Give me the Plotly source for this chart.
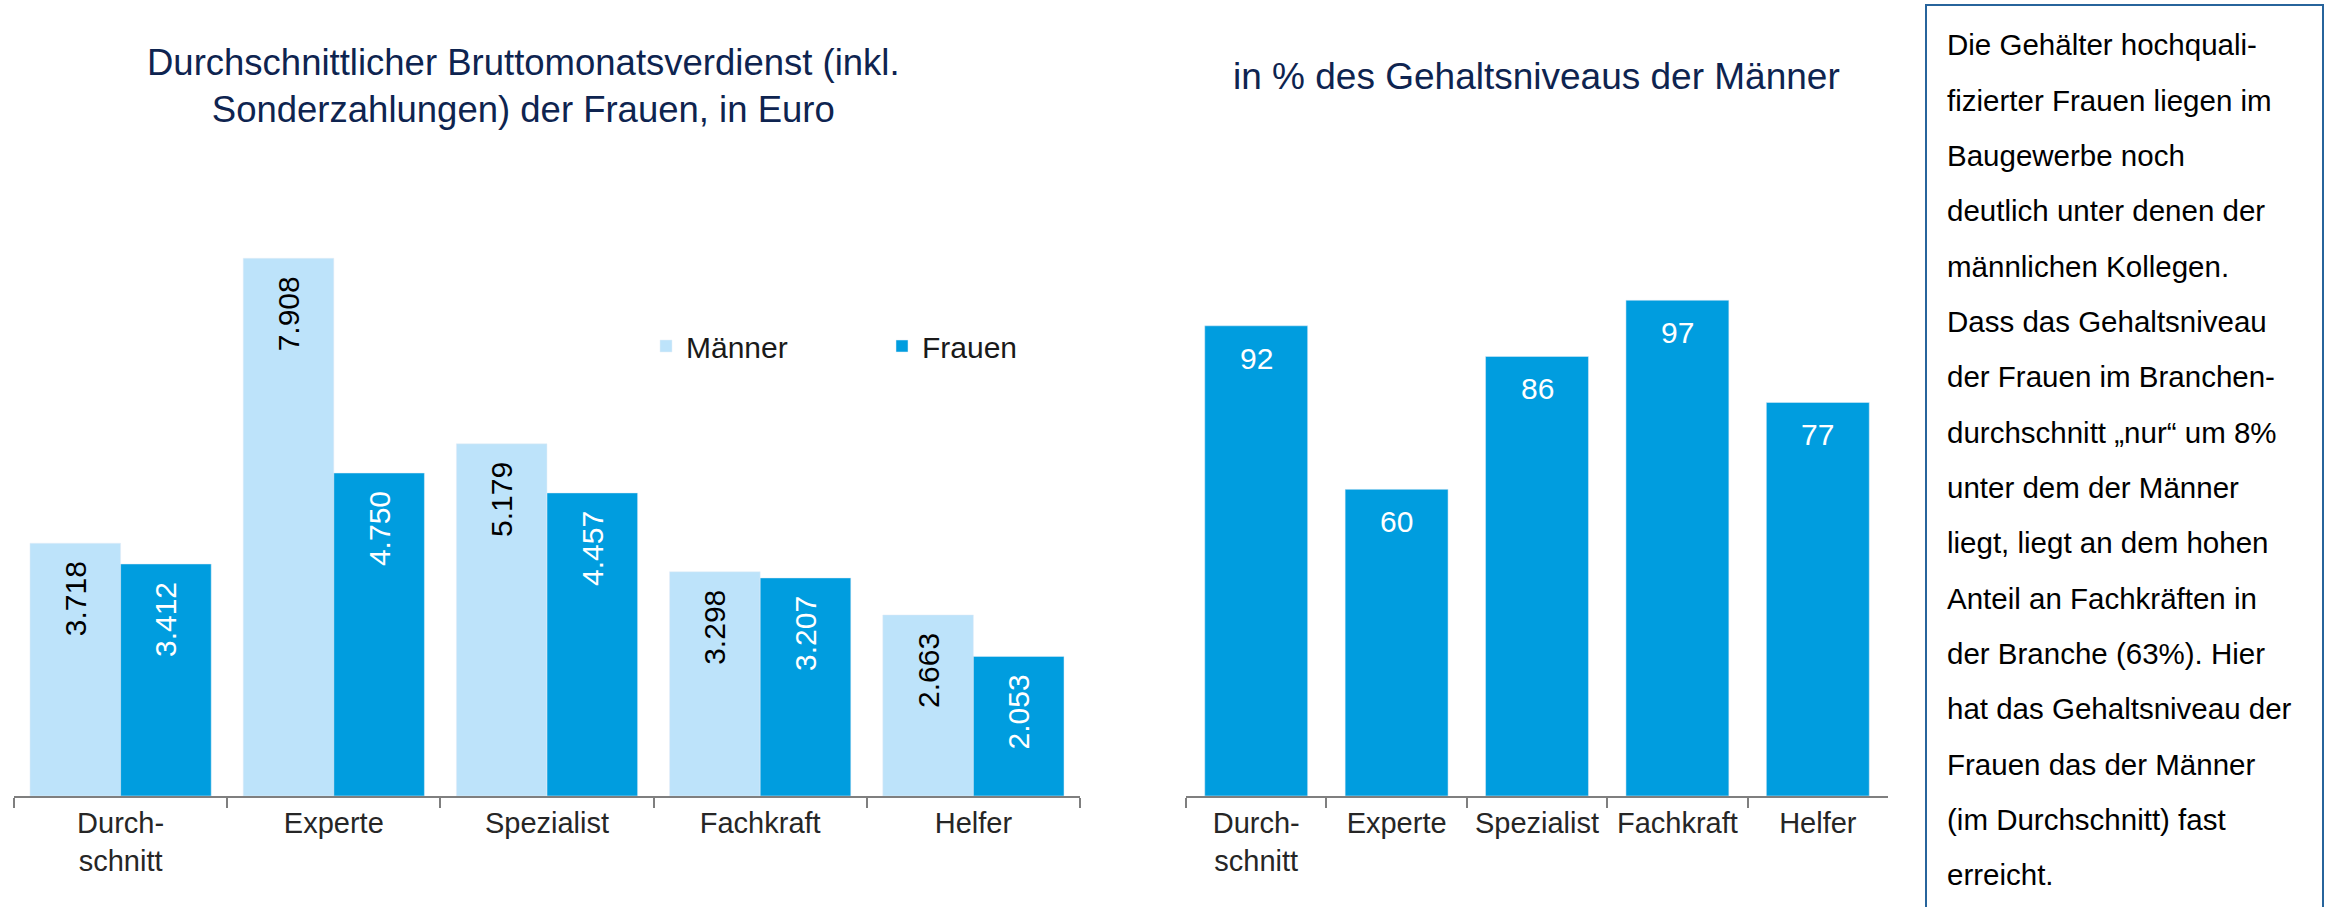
import plotly.graph_objects as go

W, H = 2331, 907

categories = ["Durch-<br>schnitt", "Experte", "Spezialist", "Fachkraft", "Helfer"]
maenner = [3718, 7908, 5179, 3298, 2663]
frauen = [3412, 4750, 4457, 3207, 2053]
prozent = [92, 60, 86, 97, 77]

title_left = "Durchschnittlicher Bruttomonatsverdienst (inkl.<br>Sonderzahlungen) der Frauen, in Euro"
title_right = "in % des Gehaltsniveaus der Männer"
box_lines = [
    "Die Gehälter hochquali-",
    "fizierter Frauen liegen im",
    "Baugewerbe noch",
    "deutlich unter denen der",
    "männlichen Kollegen.",
    "Dass das Gehaltsniveau",
    "der Frauen im Branchen-",
    "durchschnitt „nur“ um 8%",
    "unter dem der Männer",
    "liegt, liegt an dem hohen",
    "Anteil an Fachkräften in",
    "der Branche (63%). Hier",
    "hat das Gehaltsniveau der",
    "Frauen das der Männer",
    "(im Durchschnitt) fast",
    "erreicht.",
]

FONT = "Liberation Sans, Arial, sans-serif"
C_M = "#bde3fa"
C_F = "#009ddf"
NAVY = "#0e2450"


def px_x(p):
    return p / W


def px_y(p):
    return 1 - p / H


fig = go.Figure()

fig.add_trace(go.Bar(
    name="Männer", x=categories, y=maenner, marker_color=C_M,
    texttemplate="%{y:,.0f}\u2002", textposition="inside", insidetextanchor="end",
    textangle=-90, insidetextfont=dict(size=30, color="#000000", family=FONT),
    xaxis="x", yaxis="y", hoverinfo="skip",
))
fig.add_trace(go.Bar(
    name="Frauen", x=categories, y=frauen, marker_color=C_F,
    texttemplate="%{y:,.0f}\u2002", textposition="inside", insidetextanchor="end",
    textangle=-90, insidetextfont=dict(size=30, color="#ffffff", family=FONT),
    xaxis="x", yaxis="y", hoverinfo="skip",
))
fig.add_trace(go.Bar(
    name="Frauen %", x=categories, y=prozent, marker_color=C_F, width=0.733,
    xaxis="x2", yaxis="y2", showlegend=False, hoverinfo="skip",
))

axis_common = dict(
    type="category", showline=True, linecolor="#7f7f7f", linewidth=2,
    ticks="outside", tickson="boundaries", ticklen=10, tickcolor="#7f7f7f", tickwidth=2,
    tickfont=dict(size=29, color="#262626", family=FONT), showgrid=False, zeroline=False,
    fixedrange=True,
)

y_bottom = px_y(796)
y_top = px_y(150)

fig.update_layout(
    width=W, height=H,
    margin=dict(l=0, r=0, t=0, b=0),
    paper_bgcolor="white", plot_bgcolor="white",
    separators=",.",
    barmode="group", bargap=0.15, bargroupgap=0,
    font=dict(family=FONT),
    xaxis=dict(domain=[px_x(14), px_x(1080)], anchor="y", **axis_common),
    yaxis=dict(domain=[y_bottom, y_top], range=[0, 9500], visible=False, anchor="x"),
    xaxis2=dict(domain=[px_x(1186), px_x(1888)], anchor="y2", **axis_common),
    yaxis2=dict(domain=[y_bottom, y_top], range=[0, 126.4], visible=False, anchor="x2"),
    showlegend=True,
    legend=dict(
        orientation="h", x=px_x(646), xanchor="left", y=px_y(346), yanchor="middle",
        font=dict(size=30, color="#1a1a1a", family=FONT), bgcolor="rgba(0,0,0,0)",
        entrywidth=191, entrywidthmode="pixels", traceorder="normal",
    ),
)

annotations = []
annotations.append(dict(
    text=title_left, x=px_x(523), y=px_y(86), xref="paper", yref="paper",
    xanchor="center", yanchor="middle", showarrow=False,
    font=dict(size=36.5, color=NAVY, family=FONT),
))
annotations.append(dict(
    text=title_right, x=px_x(1536), y=px_y(76.5), xref="paper", yref="paper",
    xanchor="center", yanchor="middle", showarrow=False,
    font=dict(size=37, color=NAVY, family=FONT),
))
for c, v in zip(categories, prozent):
    annotations.append(dict(
        text=str(v), x=c, y=v, xref="x2", yref="y2", xanchor="center", yanchor="top",
        yshift=-14, showarrow=False, font=dict(size=30, color="#ffffff", family=FONT),
    ))
for i, line in enumerate(box_lines):
    annotations.append(dict(
        text=line, x=px_x(1945), y=px_y(44.8 + i * 55.33), xref="paper", yref="paper",
        xanchor="left", yanchor="middle", showarrow=False,
        font=dict(size=29.5, color="#000000", family=FONT),
    ))
fig.update_layout(annotations=annotations)

fig.add_shape(
    type="rect", xref="paper", yref="paper",
    x0=px_x(1926), x1=px_x(2323), y0=-0.02, y1=px_y(5),
    line=dict(color="#27649c", width=2), fillcolor="rgba(0,0,0,0)",
)

fig.write_html(
    "out.html",
    config={"displayModeBar": False},
    post_script="document.body.style.margin='0';document.body.style.overflow='hidden';",
)
